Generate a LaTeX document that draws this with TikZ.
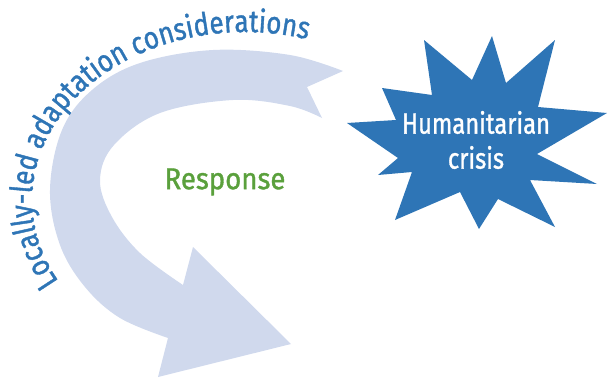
\documentclass[tikz,border=0pt]{standalone}
\usepackage{fontspec}
\newfontfamily\condfont[FakeStretch=0.82, FakeBold=1.2]{Fira Sans}
\newfontfamily\respfont[FakeStretch=0.92, FakeBold=1.2]{Fira Sans}
\newfontfamily\arcfont[FakeStretch=0.84, FakeBold=1.2]{Fira Sans}
\usetikzlibrary{decorations.text}
\definecolor{crisisblue}{RGB}{46,117,182}
\definecolor{bandfill}{RGB}{208,217,237}
\definecolor{respgreen}{RGB}{90,160,60}
\tikzset{
  band/.style={fill=bandfill},
  burst/.style={fill=crisisblue},
  burstlabel/.style={text=white, font=\condfont\fontsize{29}{35}\selectfont, align=center},
  resplabel/.style={text=respgreen, font=\respfont\fontsize{30}{36}\selectfont},
}
\begin{document}
\begin{tikzpicture}[x=1pt,y=1pt]
\useasboundingbox (0,0) rectangle (608,-378);

% curved response arrow with notched tail
\fill[band]
  plot[smooth, tension=0.6] coordinates {(343,-71) (290,-55) (213,-50) (140,-63) (92,-90) (62,-130) (50,-190) (60,-245) (85,-287) (120,-318) (168,-338)}
  -- (158,-377) -- (291,-344) -- (193,-247)
  -- plot[smooth, tension=0.6] coordinates {(183,-285) (140,-253) (112,-217) (100,-180) (114,-145) (160,-113) (233,-100) (290,-106) (322,-118)}
  -- (307,-87) -- cycle;

% crisis starburst
\fill[burst] (424,-40) -- (472,-80) -- (492,-36) -- (506,-83) -- (555,-40)
  -- (538,-107) -- (607,-113) -- (537,-154) -- (597,-184) -- (530,-180)
  -- (555,-227) -- (498,-199) -- (479,-229) -- (460,-192) -- (395,-220)
  -- (412,-172) -- (378,-175) -- (398,-158) -- (347,-123) -- (396,-120)
  -- (382,-88) -- (432,-95) -- cycle;

\node[burstlabel] (crisis) at (476,-140) {Humanitarian\\crisis};
\node[resplabel] (response) at (225,-182) {Response};

% label running along the arrow
\path[decorate, decoration={text along path, text color=crisisblue,
    text={|\arcfont\fontsize{31}{34}\selectfont|Locally-led adaptation considerations}}]
  plot[domain=151:288, samples=120, variable=\t] ({245+213*cos(\t)},{-200-168*sin(\t)});
\end{tikzpicture}
\end{document}
